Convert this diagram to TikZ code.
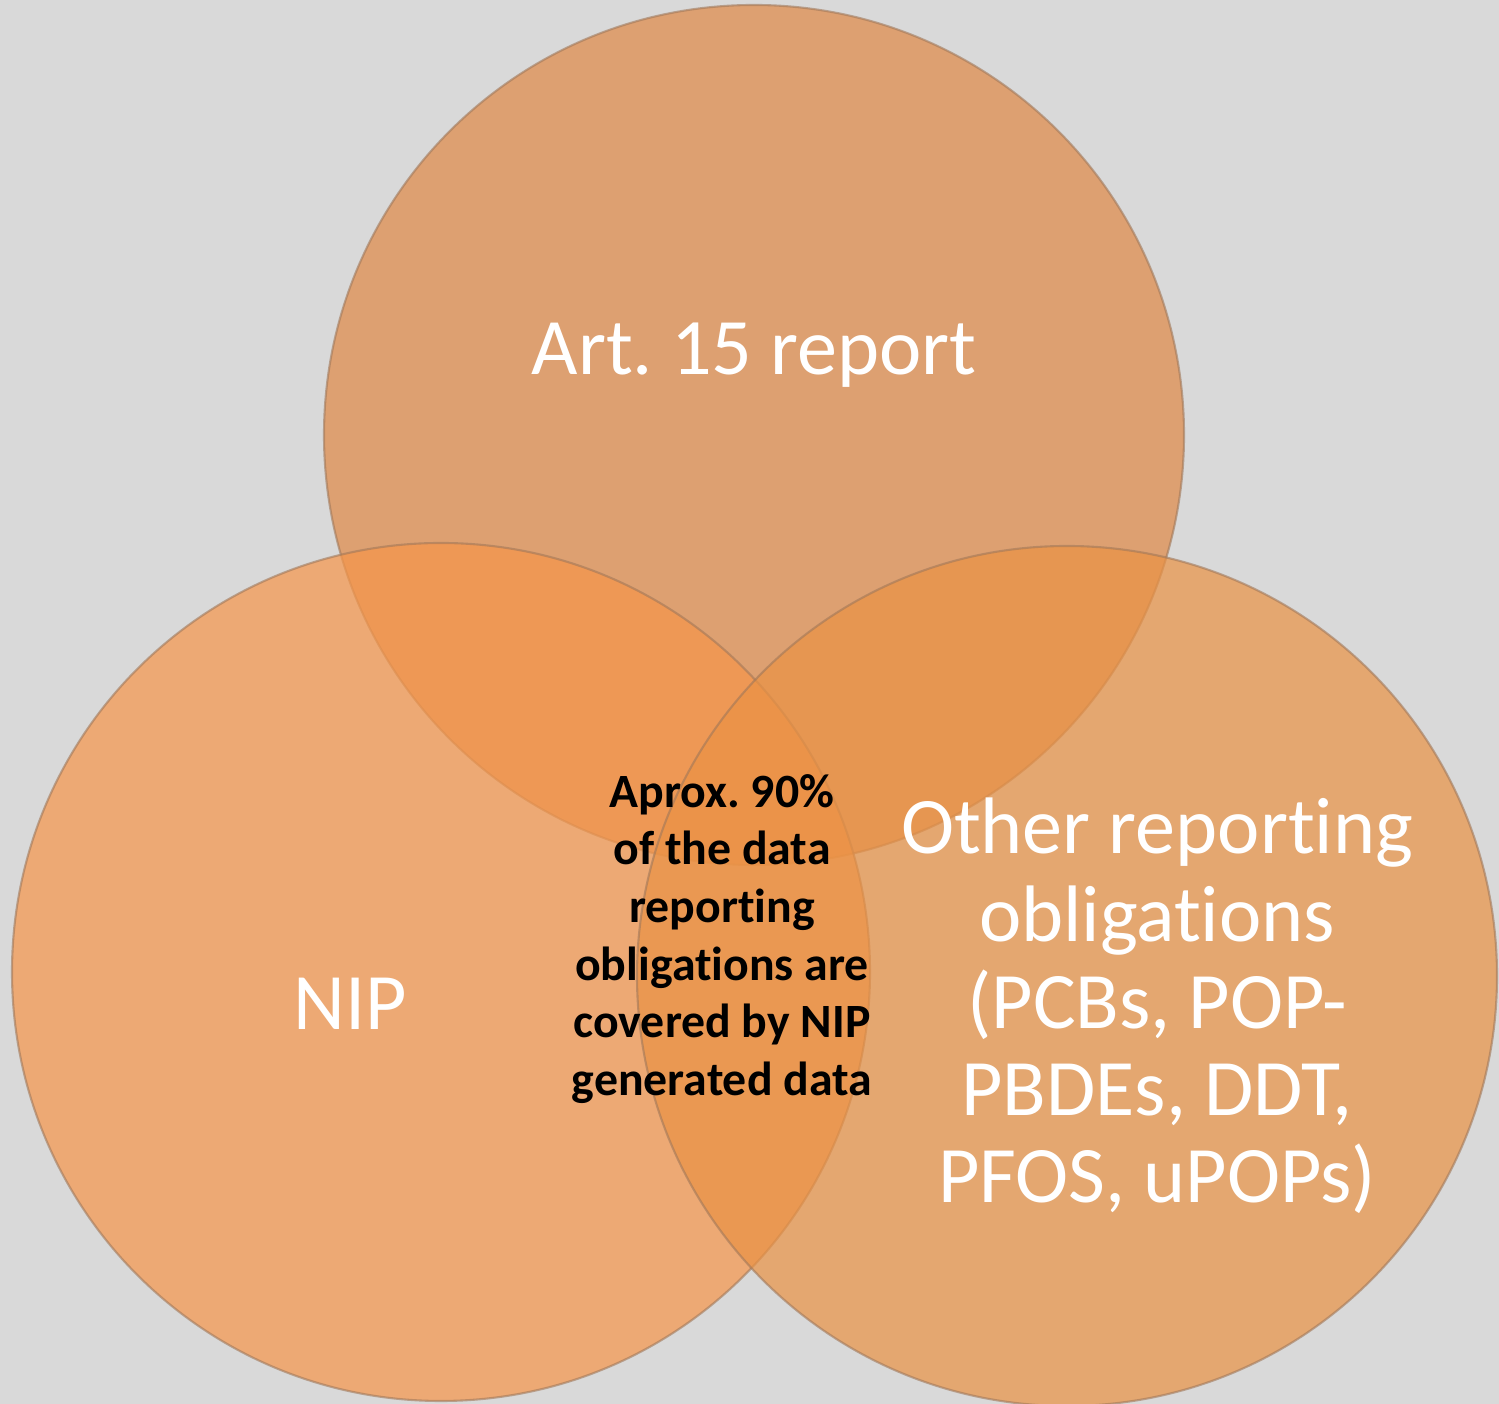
\documentclass[tikz,border=0pt]{standalone}
\usepackage{fontspec}
\setmainfont{Carlito}[RawFeature=-liga, RawFeature=-clig, RawFeature=-dlig, RawFeature=-calt, RawFeature=-rlig]
\frenchspacing
\definecolor{bggray}{RGB}{217,217,217}
\definecolor{topfill}{RGB}{223,136,70}
\definecolor{leftfill}{RGB}{246,150,74}
\definecolor{rightfill}{RGB}{234,146,68}
\definecolor{rimcol}{RGB}{160,120,90}
\tikzset{
  blob/.style={fill opacity=.7, draw=rimcol, draw opacity=.6, line width=.6pt},
  biglabel/.style={text=white, align=center, font=\fontsize{22.8}{24.8}\selectfont},
  midlabel/.style={text=black, align=center, font=\bfseries\fontsize{13.6}{16.4}\selectfont}
}
\begin{document}
\begin{tikzpicture}

%% background
\fill[bggray] (0,0) rectangle (14.99,14.04);
\useasboundingbox (0,0) rectangle (14.99,14.04);

% circles
\draw[blob, fill=topfill] (7.54,9.69) circle (4.30);
\draw[blob, fill=leftfill] (4.41,4.32) circle (4.29);
\draw[blob, fill=rightfill] (10.67,4.28) circle (4.30);

% labels
\node[biglabel, anchor=base] (art) at (7.54,10.29) {Art. 15 report};
\node[biglabel, anchor=base] (nip) at (3.50,3.74) {NIP};
\node[biglabel] (other) at (11.57,3.98) {Other reporting\\obligations\\(PCBs, POP-\\PBDEs, DDT,\\PFOS, uPOPs)};
\node[midlabel] (share) at (7.22,4.65) {Aprox. 90\%\\of the data\\reporting\\obligations are\\covered by NIP\\generated data};

\end{tikzpicture}
\end{document}
